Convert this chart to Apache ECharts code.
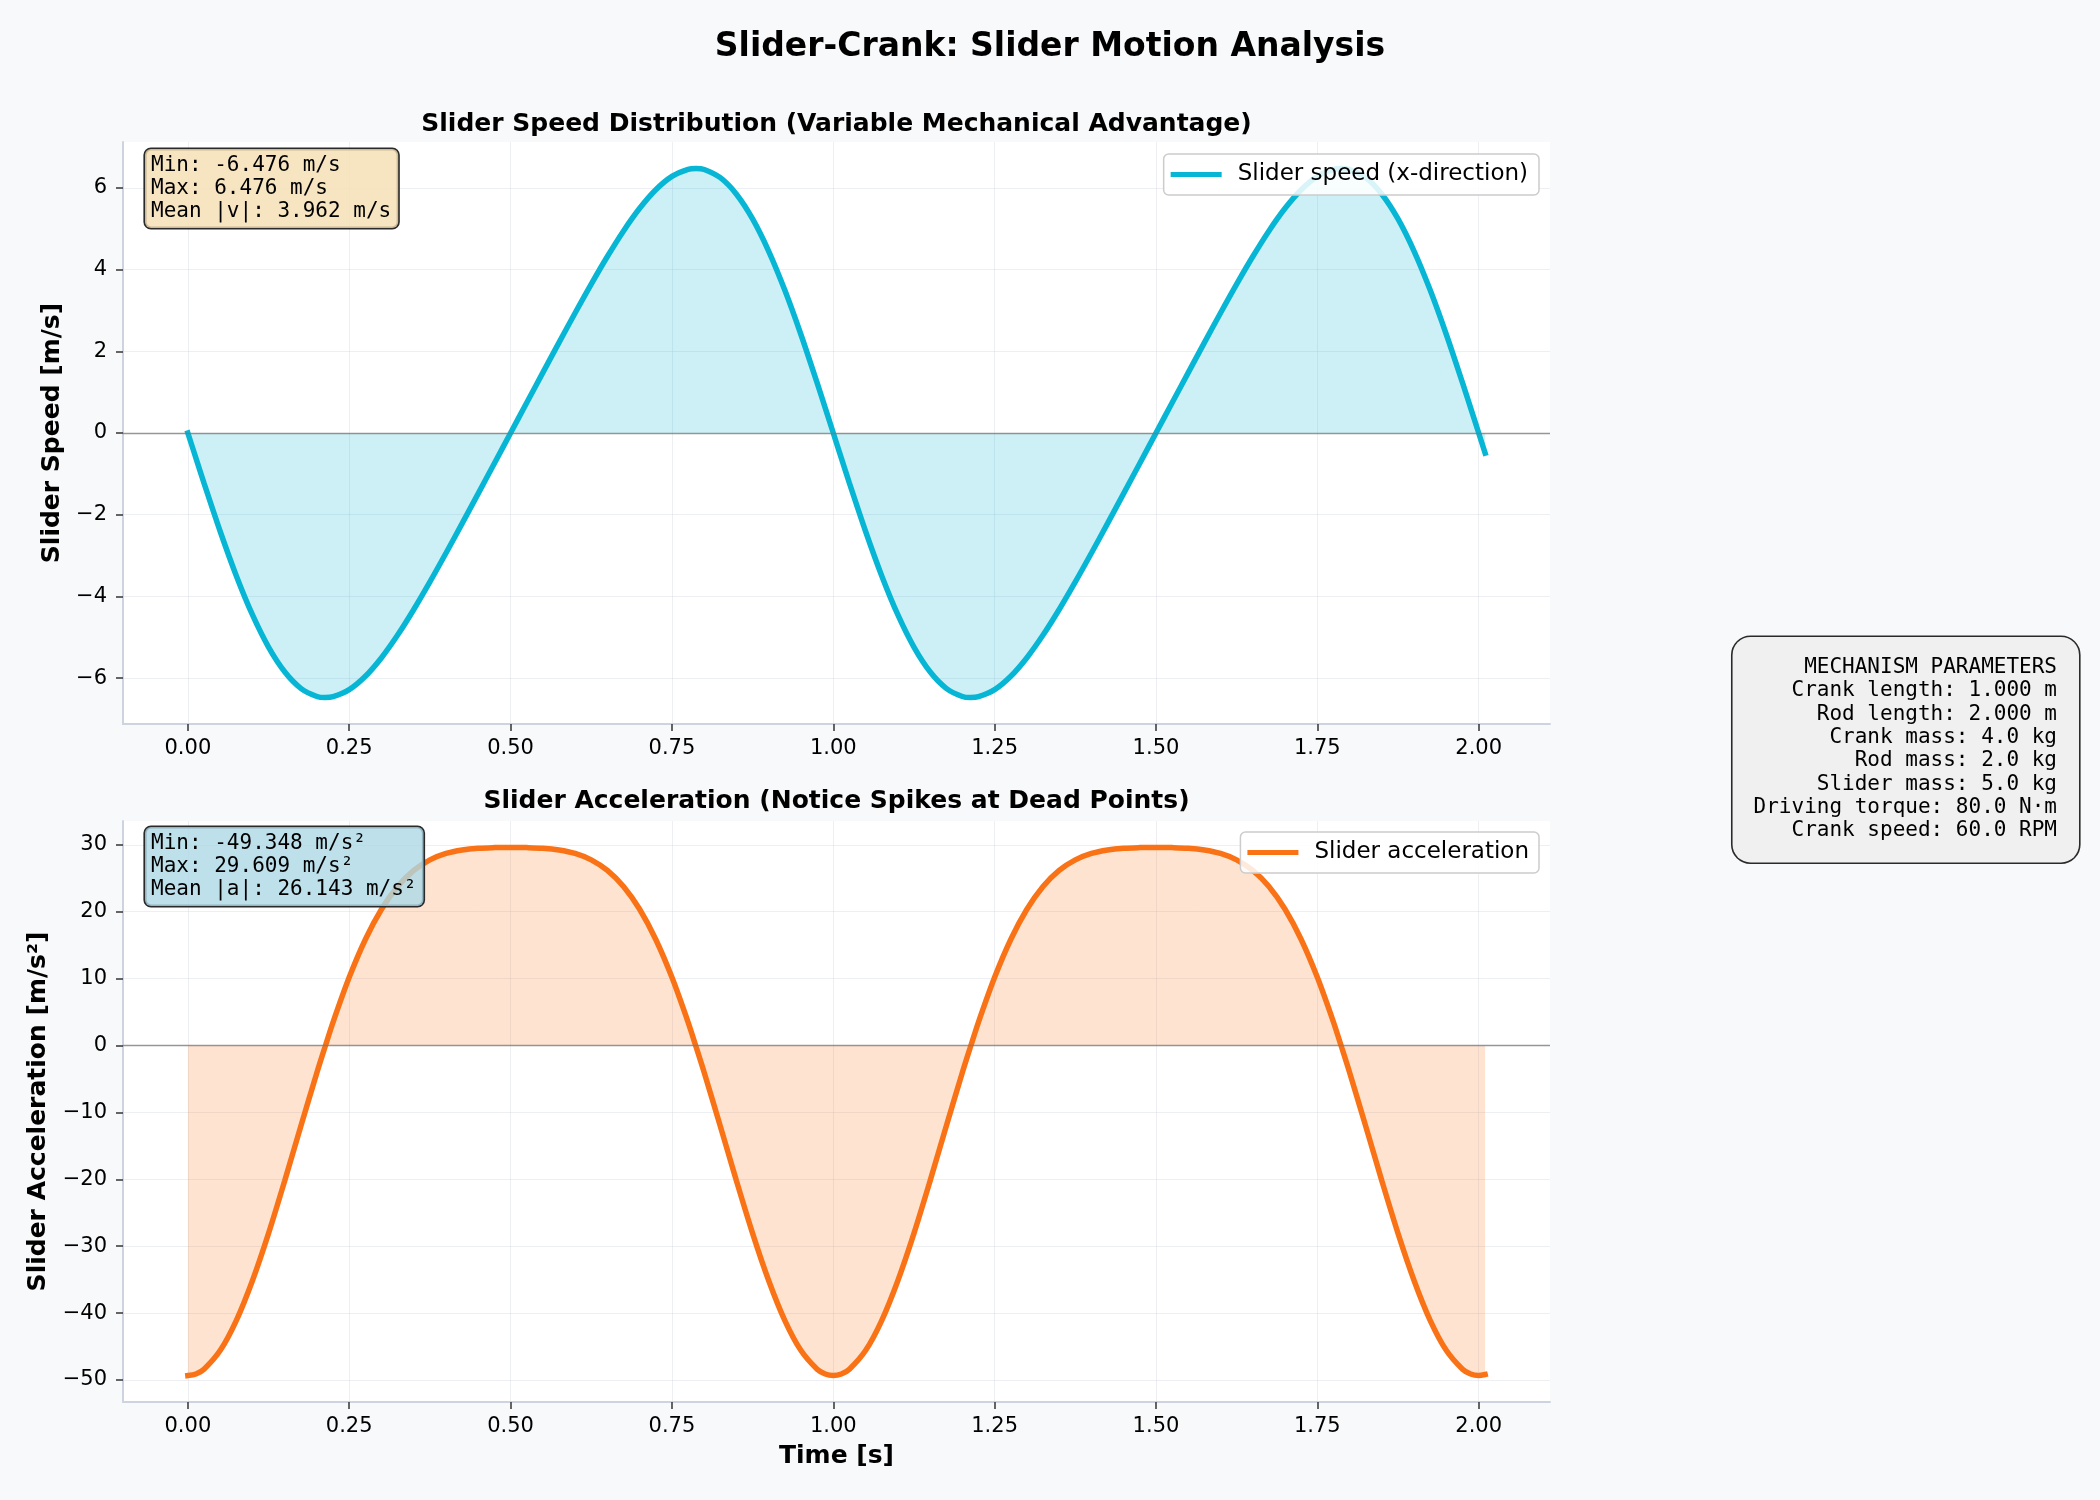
<!DOCTYPE html>
<html>
<head>
<meta charset="utf-8">
<script src="https://cdn.jsdelivr.net/npm/echarts@6/dist/echarts.min.js"></script>
<style>
html,body{margin:0;padding:0;background:#f8f9fa;}
#chart{width:2100px;height:1500px;}
</style>
</head>
<body>
<div id="chart"></div>
<script>
// ---- data ----
const time = [0, 0.0125, 0.025, 0.05, 0.075, 0.1, 0.125, 0.15, 0.175, 0.2, 0.2125, 0.225, 0.25, 0.275, 0.3, 0.325, 0.35, 0.375, 0.4, 0.425, 0.45, 0.475, 0.5, 0.525, 0.55, 0.575, 0.6, 0.625, 0.65, 0.675, 0.7, 0.725, 0.75, 0.775, 0.7875, 0.8, 0.825, 0.85, 0.875, 0.9, 0.925, 0.95, 0.975, 0.9875, 1.0,
  1.0125, 1.025, 1.05, 1.075, 1.1, 1.125, 1.15, 1.175, 1.2, 1.2125, 1.225, 1.25, 1.275, 1.3, 1.325, 1.35, 1.375, 1.4, 1.425, 1.45, 1.475, 1.5, 1.525, 1.55, 1.575, 1.6, 1.625, 1.65, 1.675, 1.7, 1.725, 1.75, 1.775, 1.7875, 1.8, 1.825, 1.85, 1.875, 1.9, 1.925, 1.95, 1.975, 1.9875, 2.0, 2.01];

const speed = [0, -0.616, -1.226, -2.405, -3.492, -4.448, -5.241, -5.846, -6.250, -6.451, -6.476, -6.456, -6.283, -5.956, -5.501, -4.947, -4.320, -3.645, -2.938, -2.213, -1.479, -0.740, 0, 0.740, 1.479, 2.213, 2.938, 3.645, 4.320, 4.947, 5.501, 5.956, 6.283, 6.456, 6.476, 6.451, 6.250, 5.846, 5.241, 4.448, 3.492, 2.405, 1.226, 0.616, 0,
  -0.616, -1.226, -2.405, -3.492, -4.448, -5.241, -5.846, -6.250, -6.451, -6.476, -6.456, -6.283, -5.956, -5.501, -4.947, -4.320, -3.645, -2.938, -2.213, -1.479, -0.740, 0, 0.740, 1.479, 2.213, 2.938, 3.645, 4.320, 4.947, 5.501, 5.956, 6.283, 6.456, 6.476, 6.451, 6.250, 5.846, 5.241, 4.448, 3.492, 2.405, 1.226, 0.616, 0, -0.493];

const accel = [-49.35, -49.11, -48.40, -45.61, -41.12, -35.16, -28.08, -20.24, -12.08, -4.04, -0.23, 3.50, 10.19, 15.85, 20.36, 23.77, 26.17, 27.75, 28.71, 29.23, 29.49, 29.58, 29.61, 29.58, 29.49, 29.23, 28.71, 27.75, 26.17, 23.77, 20.36, 15.85, 10.19, 3.50, -0.23, -4.04, -12.08, -20.24, -28.08, -35.16, -41.12, -45.61, -48.40, -49.11, -49.35,
  -49.11, -48.40, -45.61, -41.12, -35.16, -28.08, -20.24, -12.08, -4.04, -0.23, 3.50, 10.19, 15.85, 20.36, 23.77, 26.17, 27.75, 28.71, 29.23, 29.49, 29.58, 29.61, 29.58, 29.49, 29.23, 28.71, 27.75, 26.17, 23.77, 20.36, 15.85, 10.19, 3.50, -0.23, -4.04, -12.08, -20.24, -28.08, -35.16, -41.12, -45.61, -48.40, -49.11, -49.35, -49.19];

const xTicks = [0, 0.25, 0.5, 0.75, 1.0, 1.25, 1.5, 1.75, 2.0];
const speedTicks = [-6, -4, -2, 0, 2, 4, 6];
const accelTicks = [-50, -40, -30, -20, -10, 0, 10, 20, 30];

const speedStats = ['Min: -6.476 m/s', 'Max: 6.476 m/s', 'Mean |v|: 3.962 m/s'];
const accelStats = ['Min: -49.348 m/s\u00b2', 'Max: 29.609 m/s\u00b2', 'Mean |a|: 26.143 m/s\u00b2'];
const paramLines = ['MECHANISM PARAMETERS', 'Crank length: 1.000 m', 'Rod length: 2.000 m', 'Crank mass: 4.0 kg', 'Rod mass: 2.0 kg', 'Slider mass: 5.0 kg', 'Driving torque: 80.0 N\u00b7m', 'Crank speed: 60.0 RPM'];

// ---- styling ----
const FONT = '"DejaVu Sans", "Noto Sans", sans-serif';
const MONO = '"DejaVu Sans Mono", "Liberation Mono", monospace';
const cyan = '#06b6d4';
const orange = '#f97316';
const spine = '#cdd4e0';
const gridCol = 'rgba(205,210,220,0.35)';

const chart = echarts.init(document.getElementById('chart'), null, {renderer: 'canvas'});

const minusFmt = v => (v < 0 ? '\u2212' : '') + Math.abs(v);

function xAxisDef(gridIndex, withName) {
  return {
    type: 'value', gridIndex: gridIndex,
    min: -0.1005, max: 2.1105,
    name: withName ? 'Time [s]' : '',
    nameLocation: 'middle', nameGap: 42,
    nameTextStyle: {fontFamily: FONT, fontWeight: 'bold', fontSize: 25, color: '#000'},
    axisLine: {show: true, onZero: false, lineStyle: {color: spine, width: 2}},
    axisTick: {show: true, length: 7, customValues: xTicks, lineStyle: {color: '#333', width: 1.5}},
    axisLabel: {customValues: xTicks, margin: 14, fontFamily: FONT, fontSize: 21, color: '#000',
      formatter: v => v.toFixed(2)},
    splitLine: {show: true, lineStyle: {color: gridCol, width: 1}}
  };
}
function yAxisDef(gridIndex, name, mn, mx, ticks, gap) {
  return {
    type: 'value', gridIndex: gridIndex, min: mn, max: mx,
    name: name, nameLocation: 'middle', nameGap: gap, nameRotate: 90,
    nameTextStyle: {fontFamily: FONT, fontWeight: 'bold', fontSize: 25, color: '#000'},
    axisLine: {show: true, onZero: false, lineStyle: {color: spine, width: 2}},
    axisTick: {show: true, length: 7, customValues: ticks, lineStyle: {color: '#333', width: 1.5}},
    axisLabel: {customValues: ticks, margin: 16, fontFamily: FONT, fontSize: 21, color: '#000', formatter: minusFmt},
    splitLine: {show: true, lineStyle: {color: gridCol, width: 1}}
  };
}
const zeroLine = {
  silent: true, symbol: 'none', label: {show: false},
  lineStyle: {color: 'rgba(120,120,120,0.75)', width: 1.3, type: 'solid'},
  data: [{yAxis: 0}], animation: false
};

function boxText(lines, x, y, bg, align, padding, radius, lh) {
  return {
    type: 'text', x: x, y: y, z: 100,
    style: {
      text: lines.join('\n'), font: '21px ' + MONO, fill: '#000',
      align: align, verticalAlign: 'top', lineHeight: lh,
      backgroundColor: bg, borderColor: '#2a2a2a', borderWidth: 1.6, borderRadius: radius,
      padding: padding
    }
  };
}

const option = {
  backgroundColor: '#f8f9fa',
  animation: false,
  grid: [
    {left: 123, top: 142, width: 1427, height: 582, show: true, backgroundColor: '#ffffff', borderWidth: 0},
    {left: 123, top: 821, width: 1427, height: 581, show: true, backgroundColor: '#ffffff', borderWidth: 0}
  ],
  xAxis: [xAxisDef(0, false), xAxisDef(1, true)],
  yAxis: [
    yAxisDef(0, 'Slider Speed [m/s]', -7.1236, 7.1236, speedTicks, 58),
    yAxisDef(1, 'Slider Acceleration [m/s\u00b2]', -53.296, 33.557, accelTicks, 72)
  ],
  legend: [
    {data: ['Slider speed (x-direction)'], right: 561, top: 154, orient: 'horizontal',
     icon: 'rect', itemWidth: 51, itemHeight: 5,
     padding: [9, 11, 9, 7], backgroundColor: 'rgba(255,255,255,0.85)', borderColor: '#cccccc', borderWidth: 1.5, borderRadius: 5,
     textStyle: {fontFamily: FONT, fontSize: 23, color: '#000', padding: [0, 0, 0, 11]}},
    {data: ['Slider acceleration'], right: 561, top: 832, orient: 'horizontal',
     icon: 'rect', itemWidth: 51, itemHeight: 5,
     padding: [9, 10, 9, 7], backgroundColor: 'rgba(255,255,255,0.85)', borderColor: '#cccccc', borderWidth: 1.5, borderRadius: 5,
     textStyle: {fontFamily: FONT, fontSize: 23, color: '#000', padding: [0, 0, 0, 11]}}
  ],
  series: [
    {
      name: 'Slider speed (x-direction)', type: 'line', xAxisIndex: 0, yAxisIndex: 0,
      data: time.map((t, i) => [t, speed[i]]),
      showSymbol: false, smooth: 0.3, z: 3,
      lineStyle: {color: cyan, width: 5.5, cap: 'square'},
      itemStyle: {color: cyan},
      areaStyle: {color: 'rgba(6,182,212,0.2)', opacity: 1, origin: 0},
      markLine: zeroLine
    },
    {
      name: 'Slider acceleration', type: 'line', xAxisIndex: 1, yAxisIndex: 1,
      data: time.map((t, i) => [t, accel[i]]),
      showSymbol: false, smooth: 0.3, z: 3,
      lineStyle: {color: orange, width: 5.5, cap: 'square'},
      itemStyle: {color: orange},
      areaStyle: {color: 'rgba(249,115,22,0.2)', opacity: 1, origin: 0},
      markLine: zeroLine
    }
  ],
  graphic: [
    {type: 'text', x: 1050, y: 47, z: 100,
     style: {text: 'Slider-Crank: Slider Motion Analysis', font: 'bold 33px ' + FONT, fill: '#000', align: 'center', verticalAlign: 'middle'}},
    {type: 'text', x: 836.5, y: 124.5, z: 100,
     style: {text: 'Slider Speed Distribution (Variable Mechanical Advantage)', font: 'bold 25px ' + FONT, fill: '#000', align: 'center', verticalAlign: 'middle'}},
    {type: 'text', x: 836.5, y: 801.5, z: 100,
     style: {text: 'Slider Acceleration (Notice Spikes at Dead Points)', font: 'bold 25px ' + FONT, fill: '#000', align: 'center', verticalAlign: 'middle'}},
    boxText(speedStats, 145, 149, 'rgba(245,222,179,0.8)', 'left', [5, 7, 5, 6], 6, 23),
    boxText(accelStats, 145, 827, 'rgba(173,216,230,0.8)', 'left', [5, 7, 5, 6], 6, 23),
    boxText(paramLines, 2079, 637, '#eff0ef', 'right', [19, 22, 20, 21], 18, 23.3)
  ]
};
chart.setOption(option);
</script>
</body>
</html>
